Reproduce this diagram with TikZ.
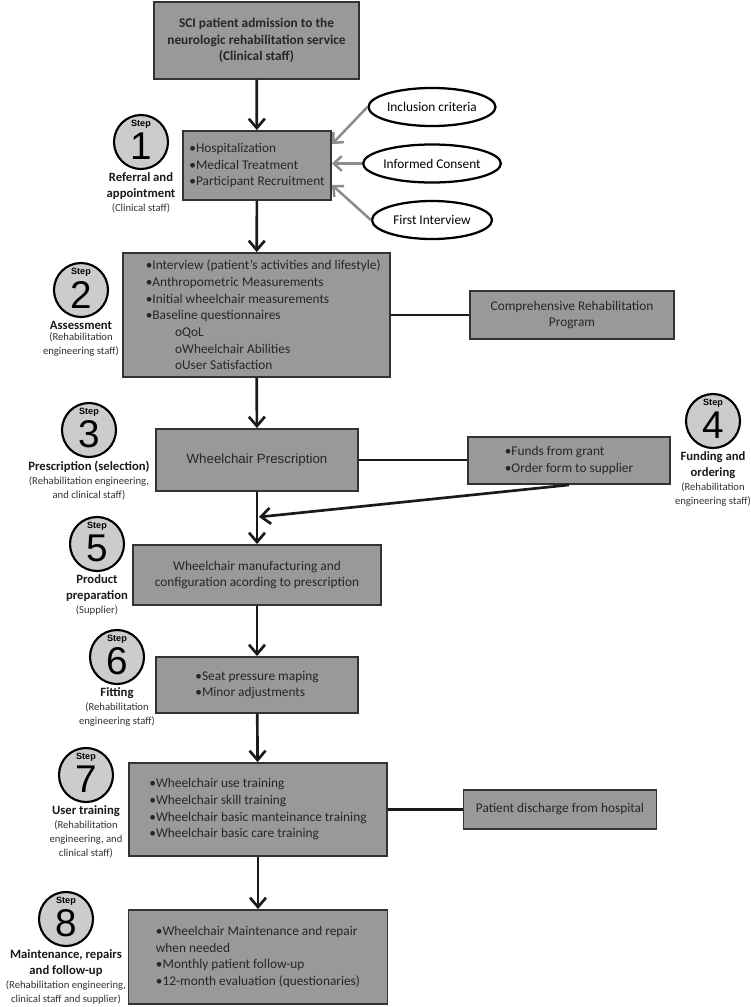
\documentclass[tikz,border=0pt]{standalone}
\usepackage{fontspec}
\setmainfont{Carlito}
\newfontfamily\arialfont{Liberation Sans}
\usetikzlibrary{arrows.meta, positioning, shapes.geometric}

\definecolor{boxfill}{HTML}{999999}
\definecolor{boxline}{HTML}{333333}
\definecolor{boxtext}{HTML}{262626}
\definecolor{stepfill}{HTML}{CCCCCC}
\definecolor{feedgray}{HTML}{8C8C8C}
\definecolor{linecol}{HTML}{1A1A1A}

\tikzset{
  box/.style={draw=boxline, fill=boxfill, line width=1.4pt, text=boxtext,
    inner sep=0pt, font=\fontsize{10}{12.5}\selectfont},
  bullets/.style={box, align=left},
  plain/.style={box, align=center},
  criterion/.style={draw=black, fill=white, ellipse, line width=1.7pt,
    minimum width=90pt, minimum height=28.5pt, inner sep=0pt,
    font=\fontsize{10}{12}\selectfont},
  stepcircle/.style={circle, draw=black, fill=stepfill, line width=1.6pt,
    minimum size=40.5pt, inner sep=0pt},
  stepdigit/.style={inner sep=0pt, font=\arialfont\fontsize{29}{29}\selectfont},
  steptag/.style={inner sep=0pt, font=\arialfont\fontsize{6.8}{7}\selectfont\bfseries},
  steplabel/.style={inner sep=0pt, align=center, text=linecol,
    font=\fontsize{9.5}{12}\selectfont\bfseries},
  stepstaff/.style={inner sep=0pt, align=center, text=boxline,
    font=\fontsize{8}{10.5}\selectfont},
  flow/.style={draw=linecol, line width=2pt,
    -{Straight Barb[length=7pt, width=12pt]}},
  feed/.style={draw=feedgray, line width=1.9pt,
    -{Straight Barb[length=6pt, width=11pt]}},
  link/.style={draw=linecol, line width=2pt},
}

\begin{document}
\begin{tikzpicture}[x=0.75pt, y=-0.75pt]
    \fill[white] (0,0) rectangle (750,1007);
    \useasboundingbox (0,0) rectangle (750,1007);

    % Main boxes
    \node[plain, minimum width=153.75pt, minimum height=57.75pt,
      font=\fontsize{10}{12.4}\selectfont\bfseries] (admit) at (256.5,40.5)
      {SCI patient admission to the\\neurologic rehabilitation service\\(Clinical staff)};
    \node[bullets, minimum width=111pt, minimum height=51.75pt] (referral) at (257,165.5)
      {•Hospitalization\\•Medical Treatment\\•Participant Recruitment};
    \node[bullets, minimum width=200.25pt, minimum height=93pt] (assess) at (256.5,315)
      {\hspace*{10pt}•Interview (patient's activities and lifestyle)\\
       \hspace*{10pt}•Anthropometric Measurements\\
       \hspace*{10pt}•Initial wheelchair measurements\\
       \hspace*{10pt}•Baseline questionnaires\\
       \hspace*{32pt}oQoL\\
       \hspace*{32pt}oWheelchair Abilities\\
       \hspace*{32pt}oUser Satisfaction};
    \node[plain, minimum width=151.5pt, minimum height=46.5pt,
      font=\arialfont\fontsize{10}{12}\selectfont] (prescr) at (257,460)
      {Wheelchair Prescription};
    \node[plain, minimum width=186pt, minimum height=45pt] (manuf) at (257,575)
      {Wheelchair manufacturing and\\configuration acording to prescription};
    \node[bullets, minimum width=151.5pt, minimum height=42pt] (fitting) at (257,685)
      {•Seat pressure maping\\•Minor adjustments};
    \node[bullets, minimum width=193.5pt, minimum height=69.75pt] (training) at (258,809.5)
      {•Wheelchair use training\\
       •Wheelchair skill training\\
       •Wheelchair basic manteinance training\\
       •Wheelchair basic care training};
    \node[bullets, minimum width=194.25pt, minimum height=70.5pt] (followup) at (258,957)
      {•Wheelchair Maintenance and repair\\
       when needed\\
       •Monthly patient follow-up\\
       •12-month evaluation (questionaries)};

    % Side boxes
    \node[plain, minimum width=153pt, minimum height=36pt] (program) at (572,315)
      {Comprehensive Rehabilitation\\Program};
    \node[bullets, minimum width=151.5pt, minimum height=35.25pt] (funds) at (569,460.5)
      {•Funds from grant\\•Order form to supplier};
    \node[plain, minimum width=144.75pt, minimum height=29.25pt] (discharge) at (560,809.5)
      {Patient discharge from hospital};

    % Criteria
    \node[criterion] (inclusion) at (432,107) {Inclusion criteria};
    \node[criterion] (consent) at (432,163.5) {Informed Consent};
    \node[criterion] (interview) at (432,220) {First Interview};

    % Steps
    \foreach \n/\x/\y in {1/141/142, 2/81/290, 3/89/430, 4/713/421,
                          5/97/544, 6/117/657, 7/86/775, 8/66/919}{
      \node[stepcircle] (s\n) at (\x,\y) {};
      \node[stepdigit] (d\n) at ([yshift=-3.5pt]s\n.center) {\n};
      \node[steptag] (t\n) at ([yshift=-7.5pt]s\n.north) {Step};
    }

    \node[steplabel, below=2pt of s1] (l1) {Referral and\\appointment};
    \node[stepstaff, below=2.5pt of l1] (c1) {(Clinical staff)};
    \node[steplabel, below=2pt of s2] (l2) {Assessment};
    \node[stepstaff, below=2.5pt of l2] (c2) {(Rehabilitation\\engineering staff)};
    \node[steplabel, below=2pt of s3] (l3) {Prescription (selection)};
    \node[stepstaff, below=2.5pt of l3] (c3) {(Rehabilitation engineering,\\and clinical staff)};
    \node[steplabel, below=2pt of s4] (l4) {Funding and\\ordering};
    \node[stepstaff, below=2.5pt of l4] (c4) {(Rehabilitation\\engineering staff)};
    \node[steplabel, below=2pt of s5] (l5) {Product\\preparation};
    \node[stepstaff, below=2.5pt of l5] (c5) {(Supplier)};
    \node[steplabel, below=2pt of s6] (l6) {Fitting};
    \node[stepstaff, below=2.5pt of l6] (c6) {(Rehabilitation\\engineering staff)};
    \node[steplabel, below=2pt of s7] (l7) {User training};
    \node[stepstaff, below=2.5pt of l7] (c7) {(Rehabilitation\\engineering, and\\clinical staff)};
    \node[steplabel, below=2pt of s8] (l8) {Maintenance, repairs\\and follow-up};
    \node[stepstaff, below=2.5pt of l8] (c8) {(Rehabilitation engineering,\\clinical staff and supplier)};

    % Flow
    \draw[flow] (admit) -- (referral);
    \draw[flow] (referral) -- (assess);
    \draw[flow] (assess) -- (prescr);
    \draw[flow] (prescr) -- (manuf);
    \draw[flow] (manuf) -- (fitting);
    \draw[flow] (fitting) -- (training);
    \draw[flow] (training) -- (followup);

    \coordinate (join) at (259,517);
    \draw[flow] (funds.south) -- (join);

    % Side links
    \draw[link] (assess.east |- program) -- (program.west);
    \draw[link] (prescr.east) -- (prescr.east -| funds.west);
    \draw[link] (training.east |- discharge) -- (discharge.west);

    % Criteria arrows
    \draw[feed] (inclusion.west) -- ([yshift=16pt]referral.east);
    \draw[feed] (consent.west) -- (consent.west -| referral.east);
    \draw[feed] (interview.west) -- ([yshift=-14.5pt]referral.east);
\end{tikzpicture}
\end{document}
